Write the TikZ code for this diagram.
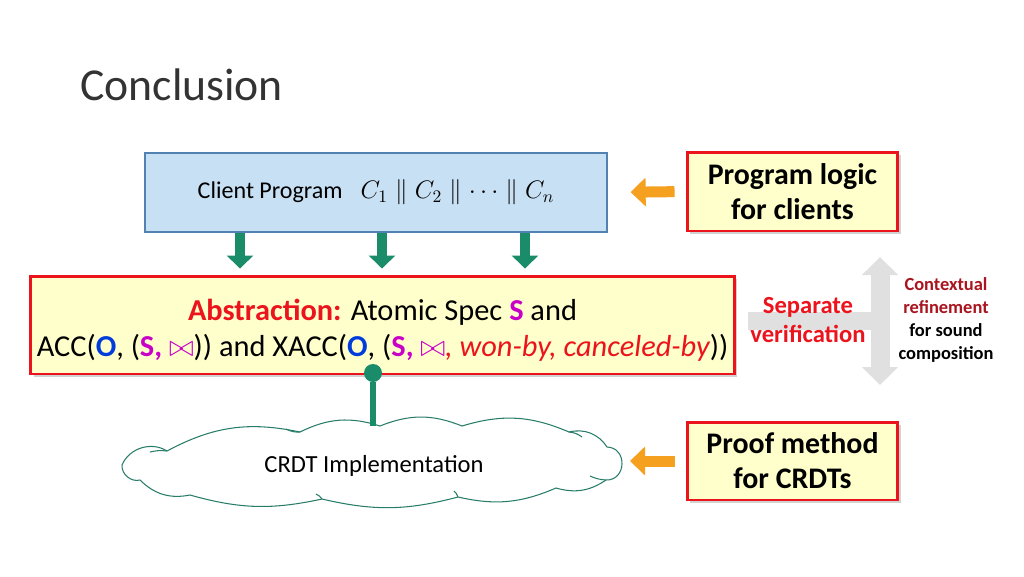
\documentclass[tikz,border=0pt]{standalone}
\usepackage{amsmath,amssymb}
\usepackage{fontspec}
\setmainfont{Carlito}
\usetikzlibrary{arrows.meta,positioning,shadows}
\definecolor{clblue}{RGB}{199,224,244}
\definecolor{clborder}{RGB}{82,130,178}
\definecolor{abyellow}{RGB}{255,255,204}
\definecolor{abred}{RGB}{236,20,28}
\definecolor{pingreen}{RGB}{27,140,106}
\definecolor{cloudline}{RGB}{40,125,105}
\definecolor{arrorange}{RGB}{245,160,30}
\definecolor{specS}{RGB}{200,0,200}
\definecolor{specO}{RGB}{0,60,220}
\definecolor{ctxred}{RGB}{170,20,30}
\definecolor{vgray}{RGB}{224,224,224}

\begin{document}
\begin{tikzpicture}[x=0.02cm,y=-0.02cm,
  notebox/.style={draw=abred, line width=1.7pt, fill=abyellow, align=center,
    drop shadow={shadow xshift=1.5pt, shadow yshift=-1.5pt, opacity=0.35}},
  flowarrow/.style={pingreen, line width=0.2cm, -{Triangle[length=0.26cm,width=0.52cm]}},
  hintarrow/.style={arrorange, line width=0.22cm, -{Triangle[length=0.3cm,width=0.56cm]}},
  bothgray/.style={vgray, line width=0.38cm, {Triangle[length=0.36cm,width=0.7cm]}-{Triangle[length=0.36cm,width=0.7cm]}}]
  \useasboundingbox[fill=white] (0,0) rectangle (1024,576);

  %% title
  \node[anchor=base west, font=\fontsize{26}{30}\selectfont, text=black!80, inner sep=0] (title) at (80,100) {Conclusion};

  %% client program and abstraction
  \node[draw=clborder, line width=0.8pt, fill=clblue, minimum width=9.24cm, minimum height=1.58cm, font=\fontsize{13.7}{16}\selectfont] (client) at (376,192.5)
    {Client Program\hspace{0.75em}$C_1 \parallel C_2 \parallel \cdots \parallel C_n$};
  \node[notebox, minimum width=13.98cm, minimum height=1.96cm, font=\fontsize{17.3}{20.5}\selectfont] (abs) at (382.5,325)
    {\rule{0pt}{18.5pt}{\color{abred}\bfseries Abstraction:} Atomic Spec {\color{specS}\bfseries S} and\\
     ACC({\color{specO}\bfseries O}, ({\color{specS}\bfseries S, $\bowtie$})) and XACC({\color{specO}\bfseries O}, ({\color{specS}\bfseries S, $\bowtie$}{\color{abred}\itshape, won-by, canceled-by}))};
  \foreach \x in {240,382,525}
    \draw[flowarrow, shorten >=0.12cm] (\x,0 |- client.south) -- (\x,0 |- abs.north);

  %% implementation (cloud)
  \draw[cloudline, line width=0.6pt, fill=white]
    (122,465) to[bend left=50] (167,451) to[bend left=20] (300,432)
    to[bend left=22] (380,426) to[bend left=22] (462,426) to[bend left=20] (569,432)
    to[bend left=35] (607,447) to[bend left=90, looseness=1.6] (606,480) to[bend left=25] (556,488)
    to[bend left=18] (458,497) to[bend left=14] (322,499) to[bend left=14] (190,495)
    to[bend left=28] (140,480) to[bend left=55] cycle;
  \draw[cloudline, line width=0.6pt] (300,432) to[bend left=15] (286,429)
    (569,432) to[bend left=15] (582,437) (606,480) to[bend left=10] (590,476)
    (458,497) to[bend right=15] (454,491) (322,499) to[bend right=15] (316,494)
    (167,451) to[bend right=10] (150,452);
  \node[font=\fontsize{14}{16}\selectfont] (crdt) at (374,466) {CRDT Implementation};
  \coordinate (crdttop) at (373,426);
  \coordinate (crdteast) at (625,463);
  \node[circle, fill=pingreen, minimum size=0.36cm, inner sep=0] (pin) at (373,373) {};
  \draw[pingreen, line width=0.12cm] (pin) -- (crdttop);

  %% notes on the right
  \node[notebox, minimum width=4.22cm, minimum height=1.58cm, font=\fontsize{17}{20}\selectfont\bfseries] (logic) at (792.5,191.5) {Program logic\\for clients};
  \node[notebox, minimum width=4.22cm, minimum height=1.56cm, font=\fontsize{17}{20}\selectfont\bfseries] (proof) at (792.5,461) {Proof method\\for CRDTs};
  \draw[hintarrow, shorten <=0.22cm, shorten >=0.46cm] (logic.west) -- (client.east);
  \draw[hintarrow, shorten <=0.22cm, shorten >=0.1cm] (proof.west) -- (proof.west -| crdteast);

  %% separate verification
  \coordinate (vtop) at (880,257);
  \coordinate (vbot) at (880,385);
  \fill[vgray] (748,312) rectangle (880,330);
  \draw[bothgray] (vtop) -- (vbot);
  \node[font=\fontsize{14}{17}\selectfont\bfseries, text=abred, align=center] (sepver) at (808,320) {Separate\\verification};
  \node[font=\fontsize{10.5}{13}\selectfont\bfseries, align=center] (ctx) at (946,320)
    {{\color{ctxred}Contextual}\\{\color{ctxred}refinement}\\for sound\\composition};
\end{tikzpicture}
\end{document}
